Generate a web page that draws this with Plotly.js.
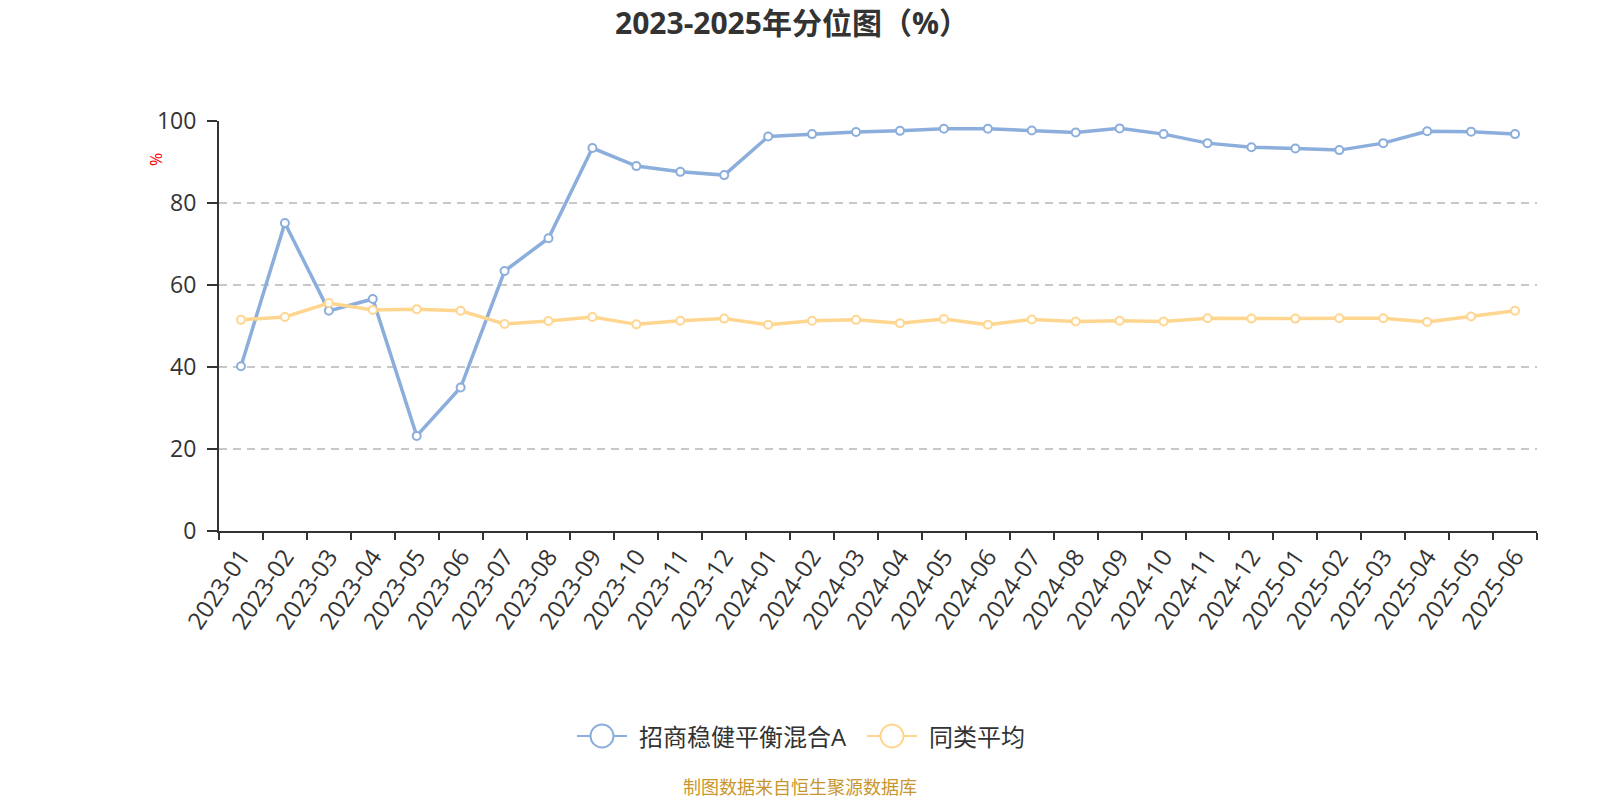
<!DOCTYPE html>
<html>
<head>
<meta charset="utf-8">
<script src="https://cdn.plot.ly/plotly-3.0.1.min.js"></script>
<style>html,body{margin:0;padding:0;background:#fff;}#chart{width:1600px;height:800px;}</style>
</head>
<body>
<div id="chart"></div>
<script>
const months = ["2023-01","2023-02","2023-03","2023-04","2023-05","2023-06","2023-07","2023-08","2023-09","2023-10","2023-11","2023-12",
"2024-01","2024-02","2024-03","2024-04","2024-05","2024-06","2024-07","2024-08","2024-09","2024-10","2024-11","2024-12",
"2025-01","2025-02","2025-03","2025-04","2025-05","2025-06"];
const fundValues = [40.2,75.1,53.7,56.6,23.2,35.0,63.4,71.4,93.4,89.0,87.6,86.8,
96.2,96.8,97.3,97.6,98.1,98.1,97.7,97.2,98.2,96.8,94.6,93.6,
93.3,92.9,94.6,97.5,97.4,96.8];
const avgValues = [51.5,52.2,55.6,53.9,54.1,53.7,50.5,51.2,52.2,50.4,51.3,51.8,
50.3,51.3,51.5,50.7,51.7,50.3,51.6,51.1,51.3,51.1,51.9,51.8,
51.8,51.9,51.9,51.0,52.3,53.7];
const yTicks = [0,20,40,60,80,100];
const seriesNames = ["招商稳健平衡混合A","同类平均"];
const colors = ["#8caedc","#ffd68f"];

const W = 1600, H = 800;
const M = {l:219, r:63, t:121, b:269};
const PW = W - M.l - M.r, PH = H - M.t - M.b;
function px(x){ return (x - M.l) / PW; }
function py(y){ return (H - M.b - y) / PH; }

const font = "'Open Sans','Noto Sans CJK SC',sans-serif";

const traces = [fundValues, avgValues].map((v,i)=>({
  x: months, y: v, type: 'scatter', mode: 'lines+markers', name: seriesNames[i],
  line: {color: colors[i], width: 3.5},
  marker: {symbol: 'circle', size: 8, color: '#fff', line: {color: colors[i], width: 2}},
  showlegend: false, hoverinfo: 'x+y'
}));

// custom legend
const shapes = [];
const annotations = [];
const legendY = 736;
const legendItems = [{x0:577, text: seriesNames[0]},{x0:867, text: seriesNames[1]}];
legendItems.forEach((it,i)=>{
  shapes.push({type:'line', xref:'paper', yref:'paper', x0:px(it.x0), x1:px(it.x0+50), y0:py(legendY), y1:py(legendY), line:{color:colors[i], width:2}});
  const cx = it.x0+25, r = 11.5;
  shapes.push({type:'circle', xref:'paper', yref:'paper', x0:px(cx-r), x1:px(cx+r), y0:py(legendY-r), y1:py(legendY+r), fillcolor:'#fff', line:{color:colors[i], width:2}});
  annotations.push({xref:'paper', yref:'paper', x:px(it.x0+60), y:py(legendY), xanchor:'left', yanchor:'middle', showarrow:false, text: it.text, font:{family:font, size:24, color:'#333'}});
});
annotations.push({xref:'paper', yref:'paper', x:px(156), y:py(160), xanchor:'center', yanchor:'middle', showarrow:false, text:'%', textangle:-90, font:{family:font, size:16, color:'#ff0000'}});
annotations.push({xref:'paper', yref:'paper', x:px(800), y:py(787), xanchor:'center', yanchor:'middle', showarrow:false, text:'制图数据来自恒生聚源数据库', font:{family:font, size:18, color:'#c8962e'}});

const layout = {
  width: W, height: H,
  margin: M,
  paper_bgcolor:'#fff', plot_bgcolor:'#fff',
  title: {text: '2023-2025年分位图（%）', x: 0.495, xanchor:'center', y: 0.971, yanchor:'middle', font: {family: font, size: 30, color:'#333', weight: 'bold'}},
  showlegend: false,
  xaxis: {
    type:'category', tickangle:-56, tickson:'boundaries', ticks:'outside', ticklen:7, tickwidth:2, tickcolor:'#333',
    showline:true, linecolor:'#333', linewidth:2, showgrid:false, zeroline:false,
    tickfont:{family:font, size:24, color:'#333'}, range:[-0.5, months.length-0.5], fixedrange:true
  },
  yaxis: {
    range:[0,100], tickvals:yTicks, ticktext:yTicks.map(String), ticks:'outside', ticklen:10, tickwidth:2, tickcolor:'#333',
    showline:true, linecolor:'#333', linewidth:2, showgrid:true, gridcolor:'#c8c8c8', gridwidth:1.5, griddash:'8px,6px',
    zeroline:false, tickfont:{family:font, size:23, color:'#333'}, ticklabelstandoff:6
  },
  shapes: shapes,
  annotations: annotations
};

Plotly.newPlot('chart', traces, layout, {displayModeBar:false, staticPlot:true});
</script>
</body>
</html>
